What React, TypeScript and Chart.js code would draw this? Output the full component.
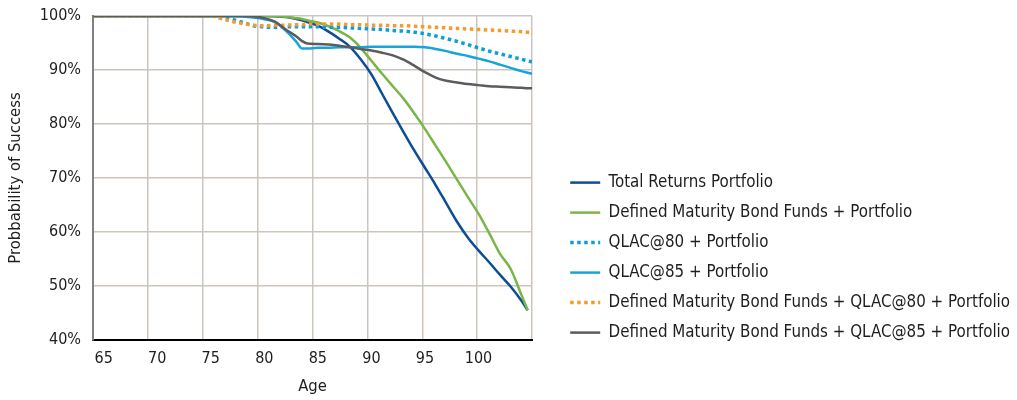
import { useEffect, useRef } from 'react';
import { Chart, registerables } from 'chart.js';

Chart.register(...registerables);

const FONT = "'DejaVu Sans Condensed', 'Liberation Sans Narrow', Roboto, sans-serif";

// Age at each sample point
const ages = [64, 75, 76, 77, 78, 79, 80, 81, 82, 83, 83.5, 84, 85, 86, 87, 88, 89, 90, 91, 92, 93, 94, 95, 96, 97, 98, 99, 100, 101, 102, 103, 104, 104.6, 105];

// Probability of success (%) for each strategy
const totalReturns = [100, 100, 100, 100, 100, 100, 100, 99.95, 99.8, 99.45, 99.2, 98.9, 98.2, 97.1, 95.8, 94.3, 92.0, 89.2, 85.6, 82.0, 78.5, 75.1, 71.9, 68.7, 65.3, 61.9, 59.0, 56.6, 54.4, 52.1, 49.9, 47.3, 45.5, null];
const definedMaturity = [100, 100, 100, 100, 100, 100, 100, 99.95, 99.85, 99.6, 99.45, 99.2, 98.8, 98.1, 97.2, 96.0, 94.1, 91.7, 89.3, 87.0, 84.7, 82.0, 79.1, 76.0, 72.9, 69.7, 66.5, 63.4, 59.8, 56.0, 53.2, 48.4, 45.5, null];
const qlac80 = [100, 100, 99.8, 99.4, 98.8, 98.2, 98.0, 97.9, 98.0, 98.0, 98.0, 98.0, 98.0, 97.9, 97.9, 97.8, 97.7, 97.6, 97.5, 97.3, 97.2, 97.0, 96.7, 96.3, 95.8, 95.3, 94.7, 94.1, 93.5, 93.0, 92.5, 92.0, 91.7, 91.5];
const qlac85 = [100, 100, 100, 100, 99.9, 99.7, 99.4, 98.9, 97.3, 95.2, 94.0, 94.0, 94.1, 94.1, 94.2, 94.2, 94.2, 94.3, 94.3, 94.3, 94.3, 94.3, 94.2, 93.9, 93.5, 93.0, 92.6, 92.1, 91.6, 91.0, 90.4, 89.8, 89.5, 89.3];
const dmbfQlac80 = [100, 100, 99.5, 99.0, 98.6, 98.3, 98.2, 98.3, 98.3, 98.4, 98.4, 98.5, 98.5, 98.5, 98.5, 98.4, 98.4, 98.3, 98.3, 98.2, 98.2, 98.1, 98.0, 97.9, 97.8, 97.7, 97.6, 97.5, 97.4, 97.3, 97.2, 97.1, 97.0, 97.0];
const dmbfQlac85 = [100, 100, 100, 100, 100, 99.9, 99.6, 98.9, 97.5, 96.2, 95.4, 94.9, 94.8, 94.7, 94.5, 94.2, 93.9, 93.6, 93.2, 92.7, 91.9, 90.8, 89.6, 88.6, 88.0, 87.7, 87.4, 87.2, 87.0, 86.9, 86.8, 86.7, 86.6, 86.6];

const seriesNames = [
  'Total Returns Portfolio',
  'Defined Maturity Bond Funds + Portfolio',
  'QLAC@80 + Portfolio',
  'QLAC@85 + Portfolio',
  'Defined Maturity Bond Funds + QLAC@80 + Portfolio',
  'Defined Maturity Bond Funds + QLAC@85 + Portfolio',
];

const xTickLabels = [65, 70, 75, 80, 85, 90, 95, 100];
const yMin = 40;
const yMax = 100;
const yStep = 10;
const gridSections = 8;

const GRID = '#cdc5bd';
const TEXT = '#1e1e1e';

export default function App() {
  const canvasRef = useRef<HTMLCanvasElement>(null);

  useEffect(() => {
    const canvas = canvasRef.current;
    if (!canvas) return;

    const seriesValues = [totalReturns, definedMaturity, qlac80, qlac85, dmbfQlac80, dmbfQlac85];
    const colors = ['#0c4d94', '#7ab547', '#0a9fdb', '#18a4da', '#f39b2d', '#5a5c5e'];
    const dotted = [false, false, true, false, true, false];

    const datasets = seriesValues.map((vals, i) => ({
      label: seriesNames[i],
      data: ages.map((a, j) => ({ x: a, y: vals[j] })),
      borderColor: colors[i],
      backgroundColor: colors[i],
      borderWidth: dotted[i] ? 3.5 : 2.5,
      borderDash: dotted[i] ? [3.5, 3.5] : [],
      borderCapStyle: 'butt' as const,
      pointRadius: 0,
      cubicInterpolationMode: 'monotone' as const,
      fill: false,
      order: seriesValues.length - i,
    }));

    const chart = new Chart(canvas, {
      type: 'line',
      data: { datasets },
      options: {
        animation: false,
        responsive: true,
        maintainAspectRatio: false,
        layout: { padding: { top: 16, left: 0, right: 0, bottom: 0 } },
        plugins: {
          tooltip: { enabled: false },
          legend: {
            position: 'right',
            align: 'start',
            maxWidth: 460,
            title: { display: true, text: '', font: { size: 10 }, padding: { top: 133, bottom: 0 } },
            labels: {
              usePointStyle: true,
              pointStyle: 'line',
              pointStyleWidth: 30,
              padding: 13.2,
              color: TEXT,
              font: { family: FONT, size: 16.8 },
              generateLabels: (c: any) => {
                const items = Chart.defaults.plugins.legend.labels.generateLabels(c);
                return items.map((it: any) => {
                  const ds: any = c.data.datasets[it.datasetIndex];
                  return {
                    ...it,
                    strokeStyle: ds.borderColor,
                    lineWidth: ds.borderWidth,
                    lineDash: ds.borderDash,
                    lineCap: 'butt',
                  };
                });
              },
              sort: (a: any, b: any) => a.datasetIndex - b.datasetIndex,
            },
          },
        },
        scales: {
          x: {
            type: 'linear',
            min: 64,
            max: 105,
            afterBuildTicks: (s: any) => {
              s.ticks = xTickLabels.map((v) => ({ value: v }));
            },
            afterFit: (s: any) => {
              s.height = 60;
            },
            grid: { display: false, drawTicks: false },
            border: { display: true, color: '#000000', width: 2 },
            ticks: { autoSkip: false, maxRotation: 0, padding: 9, color: TEXT, font: { family: FONT, size: 16 } },
            title: { display: true, text: 'Age', color: TEXT, font: { family: FONT, size: 16.5 }, padding: { top: 0, bottom: 3 } },
          },
          xg: {
            type: 'linear',
            position: 'bottom',
            min: 0,
            max: gridSections,
            ticks: { display: false, stepSize: 1 },
            grid: { display: true, color: GRID, lineWidth: 1.5, drawTicks: false },
            border: { display: false },
            afterFit: (s: any) => {
              s.height = 0;
            },
          },
          y: {
            type: 'linear',
            min: yMin,
            max: yMax,
            ticks: {
              stepSize: yStep,
              padding: 12,
              color: TEXT,
              font: { family: FONT, size: 16 },
              callback: (v: any) => `${v}%`,
            },
            afterFit: (s: any) => {
              s.width = 93;
              s.paddingTop = 0;
              s.paddingBottom = 0;
            },
            grid: { color: GRID, lineWidth: 1.5, drawTicks: false },
            border: { display: true, color: '#808080', width: 2 },
            title: { display: true, text: 'Probbability of Success', color: TEXT, font: { family: FONT, size: 16.5 }, padding: { top: 6, bottom: 0 } },
          },
          yr: {
            type: 'linear',
            position: 'right',
            ticks: { display: false },
            grid: { display: false, drawTicks: false },
            border: { display: false },
            afterFit: (s: any) => {
              s.width = 25;
              s.paddingTop = 0;
              s.paddingBottom = 0;
            },
          },
        },
      },
    });

    return () => chart.destroy();
  }, []);

  return (
    <div style={{ position: 'fixed', left: 0, top: 0, width: 1017, height: 400, background: '#ffffff' }}>
      <canvas ref={canvasRef} />
    </div>
  );
}
